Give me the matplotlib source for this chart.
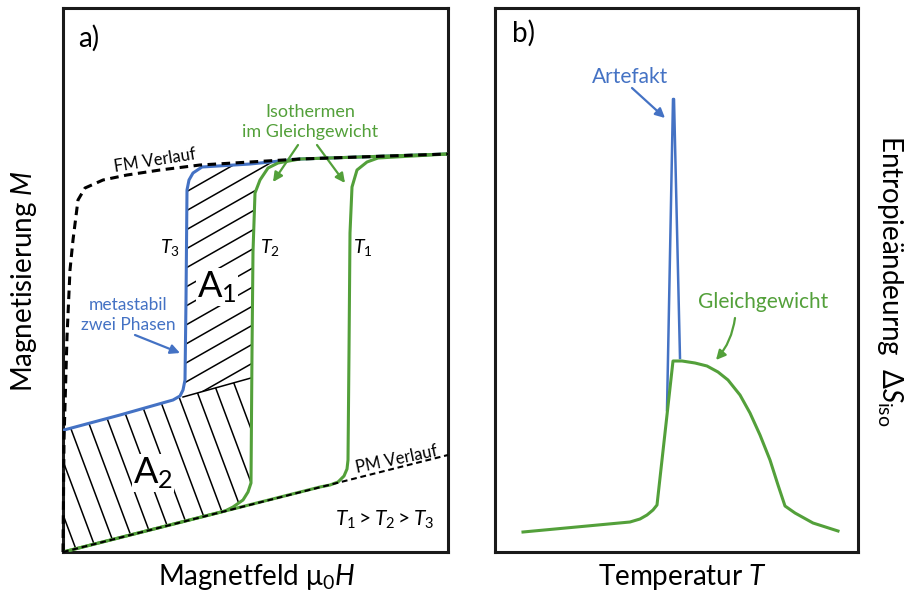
import numpy as np
import matplotlib
matplotlib.use('Agg')
import matplotlib.pyplot as plt
from matplotlib.patches import Polygon

plt.rcParams['font.family'] = ['Lato', 'DejaVu Sans']
plt.rcParams['mathtext.fontset'] = 'custom'
plt.rcParams['mathtext.rm'] = 'Lato'
plt.rcParams['mathtext.it'] = 'Lato:italic'

BLUE = '#4472C4'
GREEN = '#53A03A'
INK = '#1a1a1a'

# Panel a: Magnetfeld (x) vs Magnetisierung (y), arbitrary units
fm_h = [0, 1, 4, 7, 10, 15, 22, 40, 64, 97, 137, 237, 385]
fm_m = [0, 112, 215, 282, 312, 352, 364, 372, 377, 382, 387, 393, 398]

pm_h = [0, 385]
pm_m = [0, 97]

t3_h = [1, 57, 110, 117, 120, 122, 123, 124, 126, 130, 139, 187, 237, 385]
t3_m = [122, 137, 152, 156, 162, 172, 252, 362, 372, 379, 385, 388, 393, 398]

t2_h = [0, 162, 170, 180, 185, 188, 189, 190, 192, 197, 205, 215, 237, 385]
t2_m = [0, 41, 45, 52, 60, 69, 200, 300, 359, 372, 384, 389, 393, 398]

t1_h = [0, 257, 267, 275, 281, 284, 285, 286, 287, 289, 294, 304, 315, 385]
t1_m = [0, 65, 67, 70, 76, 83, 92, 200, 319, 365, 382, 390, 394, 398]

# hatched areas and the A1/A2 border
a1_h = [120, 122, 123, 124, 126, 130, 139, 187, 215, 205, 197, 192, 190, 189, 188]
a1_m = [155, 172, 252, 362, 372, 379, 385, 388, 389, 384, 372, 359, 300, 200, 174]
a2_h = [0, 0, 57, 110, 120, 188, 188, 185, 180, 170, 162]
a2_m = [0, 122, 137, 152, 155, 174, 69, 60, 52, 45, 41]
border_h = [120, 188]
border_m = [155, 174]

# Panel b: Temperatur (x) vs Entropieaenderung (y)
eq_t = [28, 135, 145, 152, 158, 162, 178, 187, 200, 212, 223, 233, 245, 255,
        265, 275, 283, 290, 300, 318, 343]
eq_s = [20, 30, 33, 37, 42, 47, 191, 191, 189, 186, 180, 172, 157, 139,
        117, 92, 67, 46, 39, 29, 21]
art_t = [172, 178, 179, 185]
art_s = [142, 453, 453, 194]

fig = plt.figure(figsize=(9.11, 6.01), dpi=100)
axa = fig.add_axes([63/911, 49/601, 385/911, 544/601])
axb = fig.add_axes([495/911, 49/601, 363/911, 544/601])

for ax, w in ((axa, 385), (axb, 363)):
    ax.set_xlim(0, w)
    ax.set_ylim(0, 544)
    ax.set_xticks([])
    ax.set_yticks([])
    for s in ax.spines.values():
        s.set_linewidth(2.2)
        s.set_color(INK)


def hatch(ax, hx, hy, slope, offsets, vertical=False):
    patch = Polygon(np.column_stack([hx, hy]), closed=True, fc='none', ec='none')
    ax.add_patch(patch)
    for c in offsets:
        if vertical:
            yy = np.array([-50, 600])
            xx = c + slope * yy
        else:
            xx = np.array([-50, 450])
            yy = c + slope * xx
        ln, = ax.plot(xx, yy, color='black', lw=1.1, zorder=1)
        ln.set_clip_path(patch)


hatch(axa, a1_h, a1_m, 37 / 65, np.arange(271 - 19 * 10, 271 + 19 * 8, 19))
hatch(axa, a2_h, a2_m, -40 / 107, np.arange(74 - 20 * 6, 74 + 20 * 12, 20), vertical=True)
axa.plot(border_h, border_m, color='black', lw=1.1, zorder=1)

axa.plot(t3_h, t3_m, color=BLUE, lw=2.2, zorder=3, solid_capstyle='round')
axa.plot(t2_h, t2_m, color=GREEN, lw=2.2, zorder=3, solid_capstyle='round')
axa.plot(t1_h, t1_m, color=GREEN, lw=2.2, zorder=3, solid_capstyle='round')
axa.plot(fm_h, fm_m, color='black', lw=2.2, dashes=(2.8, 1.8), zorder=4, clip_on=False)
axa.plot(pm_h, pm_m, color='black', lw=1.5, dashes=(2.8, 1.8), zorder=4, clip_on=False)

axa.text(15, 514, 'a)', fontsize=20, ha='left', va='center')
axa.text(92, 391, 'FM Verlauf', fontsize=12, rotation=9, ha='center', va='center')
axa.text(247, 430, 'Isothermen\nim Gleichgewicht', fontsize=13, color=GREEN,
         ha='center', va='center', linespacing=1.25)
arrow_g = dict(arrowstyle='-|>', color=GREEN, lw=1.6, mutation_scale=14, shrinkA=0, shrinkB=0)
axa.annotate('', xy=(210, 370), xytext=(235, 407), arrowprops=arrow_g)
axa.annotate('', xy=(282, 369), xytext=(254, 407), arrowprops=arrow_g)
axa.text(107, 305, '$T_3$', fontsize=14, ha='center', va='center')
axa.text(207, 305, '$T_2$', fontsize=14, ha='center', va='center')
axa.text(300, 305, '$T_1$', fontsize=14, ha='center', va='center')
axa.text(154, 265, 'A$_1$', fontsize=26, ha='center', va='center', zorder=5,
         bbox=dict(fc='white', ec='none', pad=0.5))
axa.text(90, 79, 'A$_2$', fontsize=26, ha='center', va='center', zorder=5,
         bbox=dict(fc='white', ec='none', pad=0.5))
axa.text(65, 237, 'metastabil\nzwei Phasen', fontsize=12.5, color=BLUE,
         ha='center', va='center', linespacing=1.25)
axa.annotate('', xy=(117, 199), xytext=(72, 217),
             arrowprops=dict(arrowstyle='-|>', color=BLUE, lw=1.6, mutation_scale=14,
                             shrinkA=0, shrinkB=0))
axa.text(334, 93, 'PM Verlauf', fontsize=12, rotation=12, ha='center', va='center')
axa.text(322, 32, '$T_1 > T_2 > T_3$', fontsize=15, ha='center', va='center')

axb.plot(art_t, art_s, color=BLUE, lw=1.8, zorder=2)
axb.plot(eq_t, eq_s, color=GREEN, lw=2.2, zorder=3)
axb.text(17, 519, 'b)', fontsize=20, ha='left', va='center')
axb.text(135, 475, 'Artefakt', fontsize=15, color=BLUE, ha='center', va='center')
axb.annotate('', xy=(170, 434), xytext=(137, 464),
             arrowprops=dict(arrowstyle='-|>', color=BLUE, lw=1.6, mutation_scale=14,
                             shrinkA=0, shrinkB=0))
axb.text(268, 250, 'Gleichgewicht', fontsize=15, color=GREEN, ha='center', va='center')
axb.annotate('', xy=(221, 192), xytext=(240, 234),
             arrowprops=dict(arrowstyle='-|>', color=GREEN, lw=1.6, mutation_scale=14,
                             shrinkA=0, shrinkB=0, connectionstyle='arc3,rad=-0.15'))

fig.text(257/911, 1 - 577/601, 'Magnetfeld μ$_0$$H$', fontsize=20, ha='center', va='center')
fig.text(682/911, 1 - 577/601, 'Temperatur $T$', fontsize=20, ha='center', va='center')
fig.text(24/911, 1 - 281/601, 'Magnetisierung $M$', fontsize=20, rotation=90,
         ha='center', va='center')
fig.text(890/911, 1 - 281/601, 'Entropieändeurng  Δ$S_\\mathrm{iso}$', fontsize=20,
         rotation=270, ha='center', va='center')

fig.savefig('out.png', dpi=100)
